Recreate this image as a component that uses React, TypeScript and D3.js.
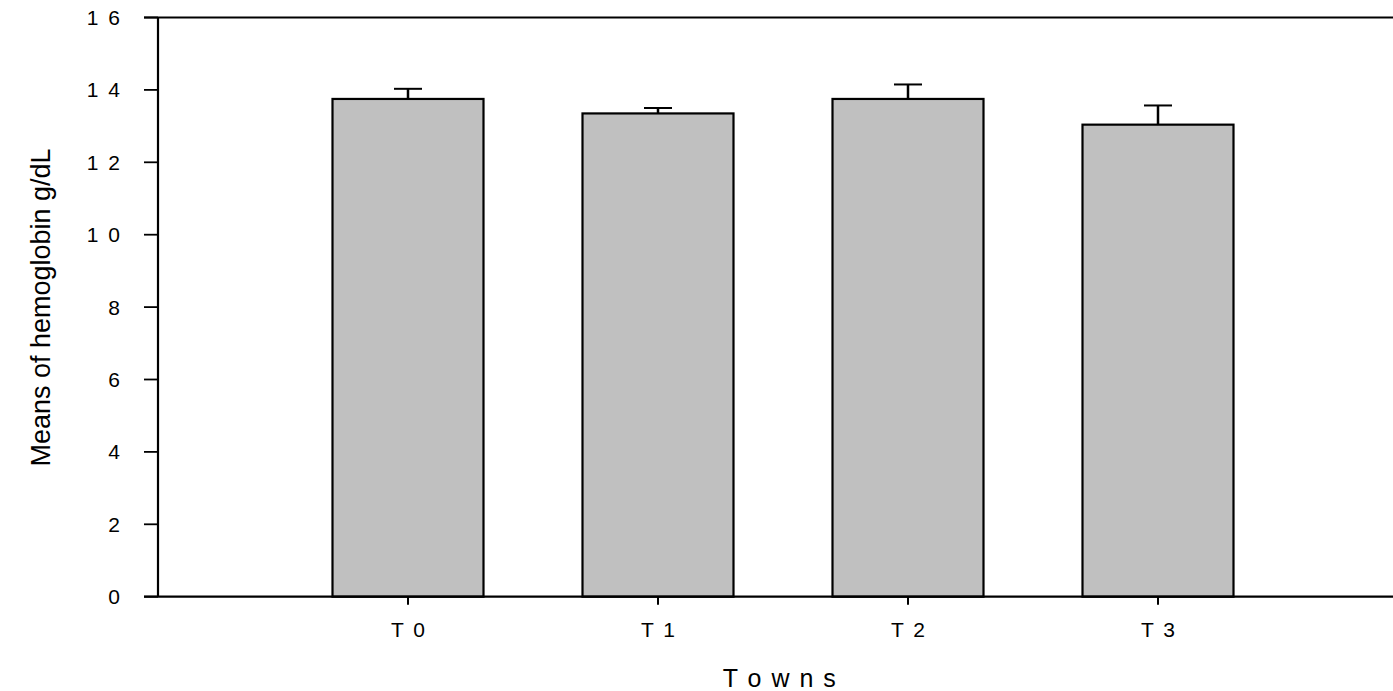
import React from "react";
import * as d3 from "d3";

const categories = ["T 0", "T 1", "T 2", "T 3"];
const means = [13.75, 13.35, 13.75, 13.04];
const errors = [0.28, 0.15, 0.4, 0.53];
const yTicks = [0, 2, 4, 6, 8, 10, 12, 14, 16];
const yTickLabels = ["0", "2", "4", "6", "8", "1 0", "1 2", "1 4", "1 6"];

const W = 1393;
const H = 691;
const left = 158;
const top = 17.5;
const bottom = 596.7;

export default function App() {
  const y = d3.scaleLinear().domain([0, 16]).range([bottom, top]);
  const x = d3.scaleLinear().domain([0, 5]).range([left, left + 1250]);
  const bw = 151;
  const cap = 28;
  const font = "Liberation Sans, Arial, sans-serif";
  return (
    <svg width={W} height={H} style={{ position: "absolute", left: 0, top: 0, background: "#fff" }}>
      {means.map((m, i) => {
        const cx = x(i + 1);
        return (
          <g key={i}>
            <line x1={cx} x2={cx} y1={y(m)} y2={y(m + errors[i])} stroke="#000" strokeWidth={2.5} />
            <line x1={cx - cap / 2} x2={cx + cap / 2} y1={y(m + errors[i])} y2={y(m + errors[i])} stroke="#000" strokeWidth={2} />
            <rect x={cx - bw / 2} y={y(m)} width={bw} height={y(0) - y(m)} fill="#c0c0c0" stroke="#000" strokeWidth={2.2} />
          </g>
        );
      })}
      <line x1={left} x2={left} y1={top} y2={bottom} stroke="#000" strokeWidth={2.2} />
      <line x1={144} x2={W} y1={top} y2={top} stroke="#000" strokeWidth={2.2} />
      <line x1={144} x2={W} y1={bottom} y2={bottom} stroke="#000" strokeWidth={2.2} />
      {yTicks.map((t, i) => (
        <g key={t}>
          <line x1={144} x2={left} y1={y(t)} y2={y(t)} stroke="#000" strokeWidth={1.8} />
          <text x={122} y={y(t)} dy="0.36em" textAnchor="end" fontFamily={font} fontSize={21} letterSpacing={2}>
            {yTickLabels[i]}
          </text>
        </g>
      ))}
      {categories.map((c, i) => (
        <g key={c}>
          <line x1={x(i + 1)} x2={x(i + 1)} y1={bottom} y2={bottom + 8} stroke="#000" strokeWidth={2} />
          <text x={x(i + 1) + 1} y={637} textAnchor="middle" fontFamily={font} fontSize={21} letterSpacing={2}>
            {c}
          </text>
        </g>
      ))}
      <text x={780} y={686.5} textAnchor="middle" fontFamily={font} fontSize={25} letterSpacing={1.5}>
        T o w n s
      </text>
      <text transform={`translate(50,307.5) rotate(-90)`} textAnchor="middle" fontFamily={font} fontSize={27}>
        Means of hemoglobin g/dL
      </text>
    </svg>
  );
}
